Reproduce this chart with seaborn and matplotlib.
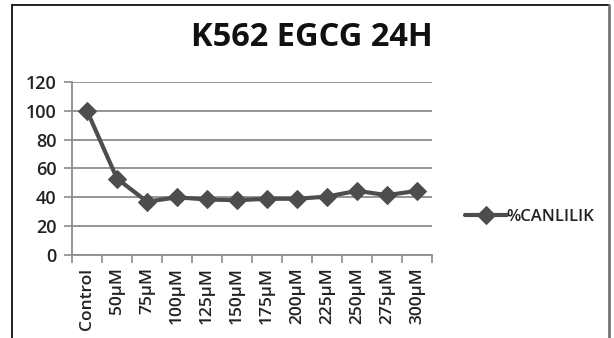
import matplotlib
matplotlib.use("Agg")
import matplotlib.pyplot as plt
from matplotlib.lines import Line2D
from matplotlib.ticker import FixedLocator
import seaborn as sns
import pandas as pd

# Cell viability (%) of K562 cells after 24 h EGCG treatment
doses = ["Control", "50µM", "75µM", "100µM", "125µM", "150µM",
         "175µM", "200µM", "225µM", "250µM", "275µM", "300µM"]
viability = [100, 53, 37, 40, 38.5, 38, 39, 39, 40.5, 44.5, 41.5, 44.5]
series_name = "%CANLILIK"
title_text = "K562 EGCG 24H"
y_ticks = [0, 20, 40, 60, 80, 100, 120]

sns.set_theme(style="white")
plt.rcParams["font.family"] = ["Open Sans", "DejaVu Sans"]

df = pd.DataFrame({"dose": range(len(doses)), "viability": viability})

fig = plt.figure(figsize=(6.14, 3.38), dpi=100)
ax = fig.add_axes([0.1173, 0.2456, 0.5863, 0.5118])

line_color = "#4d4d4d"
sns.lineplot(data=df, x="dose", y="viability", ax=ax, color=line_color,
             linewidth=3, marker="D", markersize=9.5, markeredgecolor=line_color,
             label=series_name)

ax.set_xlim(-0.5, len(doses) - 0.5)
ax.set_ylim(0, 120)
ax.set_xlabel("")
ax.set_ylabel("")

# horizontal gridlines
ax.yaxis.set_major_locator(FixedLocator(y_ticks))
ax.grid(axis="y", color="#8c8c8c", linewidth=1.3)
ax.set_axisbelow(True)

label_color = "#222222"
# category labels at centers, tick marks at category boundaries
ax.xaxis.set_major_locator(FixedLocator(range(len(doses))))
ax.set_xticklabels(doses, rotation=90, fontweight="semibold")
ax.xaxis.set_minor_locator(FixedLocator([i + 0.5 for i in range(-1, len(doses))]))
ax.tick_params(axis="x", which="major", length=0, pad=9, labelsize=12.5,
               labelcolor=label_color)
ax.tick_params(axis="x", which="minor", bottom=True, length=6, width=1.2,
               color="#8c8c8c")
ax.tick_params(axis="y", left=True, length=6, width=1.2, color="#8c8c8c",
               labelsize=13, labelcolor=label_color, pad=5)
for t in ax.get_yticklabels():
    t.set_fontweight("semibold")

for side in ["top", "right"]:
    ax.spines[side].set_visible(False)
for side in ["left", "bottom"]:
    ax.spines[side].set_color("#8c8c8c")
    ax.spines[side].set_linewidth(1.3)

leg = ax.legend(loc="center left", bbox_to_anchor=(1.05, 0.22), frameon=False,
                handlelength=2.5, handletextpad=0.0,
                prop={"weight": "semibold", "size": 12})
for t in leg.get_texts():
    t.set_color(label_color)

fig.text(0.508, 0.888, title_text, ha="center", va="center",
         fontsize=23.5, fontweight="bold", color="#111111")

# outer chart frame
fig.add_artist(Line2D([0.0195, 0.0195], [0, 0.985], transform=fig.transFigure,
                      color="#111111", linewidth=1.3))
fig.add_artist(Line2D([0.0195, 0.992], [0.985, 0.985], transform=fig.transFigure,
                      color="#111111", linewidth=1.3))
fig.add_artist(Line2D([0.992, 0.992], [0, 0.985], transform=fig.transFigure,
                      color="#777777", linewidth=2))

fig.savefig("out.png", dpi=100)
